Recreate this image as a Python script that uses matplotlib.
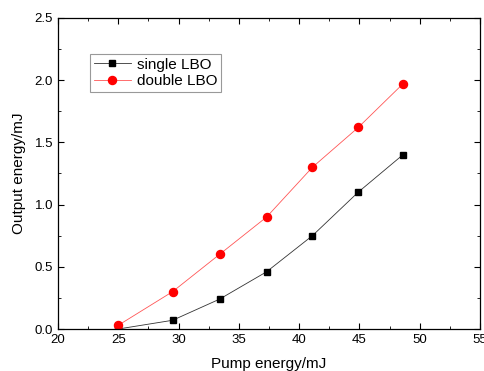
import matplotlib
matplotlib.use('Agg')
from matplotlib import pyplot as plt
from matplotlib.ticker import MultipleLocator

plt.rcParams['font.family'] = ['Liberation Sans', 'DejaVu Sans']

pump = [25.0, 29.5, 33.4, 37.3, 41.1, 44.9, 48.6]
single_lbo = [0.0, 0.07, 0.24, 0.46, 0.75, 1.10, 1.40]
double_lbo = [0.03, 0.30, 0.60, 0.90, 1.30, 1.62, 1.97]

fig = plt.figure(figsize=(4.85, 3.71), dpi=100)
ax = fig.add_axes([0.1196, 0.1132, 0.8701, 0.8383])

ax.plot(pump, single_lbo, color='#333333', lw=0.6, marker='s', ms=5,
        mfc='black', mec='black', label='single LBO')
ax.plot(pump, double_lbo, color='#ff5555', lw=0.6, marker='o', ms=5.8,
        mfc='red', mec='red', label='double LBO')

ax.set_xlim(20, 55)
ax.set_ylim(0, 2.5)
ax.xaxis.set_major_locator(MultipleLocator(5))
ax.xaxis.set_minor_locator(MultipleLocator(2.5))
ax.yaxis.set_major_locator(MultipleLocator(0.5))
ax.yaxis.set_minor_locator(MultipleLocator(0.25))
ax.tick_params(which='both', direction='in', top=True, right=True, labelsize=9.5)
ax.tick_params(which='major', length=4)
ax.tick_params(which='minor', length=2.5)
for s in ax.spines.values():
    s.set_linewidth(0.9)

ax.set_xlabel('Pump energy/mJ', fontsize=11, labelpad=8)
ax.set_ylabel('Output energy/mJ', fontsize=11, labelpad=6)

leg = ax.legend(loc='upper left', bbox_to_anchor=(0.076, 0.885), fontsize=11, fancybox=False,
                edgecolor='gray', borderpad=0.25, labelspacing=0.15, handlelength=2.4,
                handletextpad=0.4, borderaxespad=0)
leg.get_frame().set_linewidth(0.8)

fig.savefig('out.png', dpi=100)
